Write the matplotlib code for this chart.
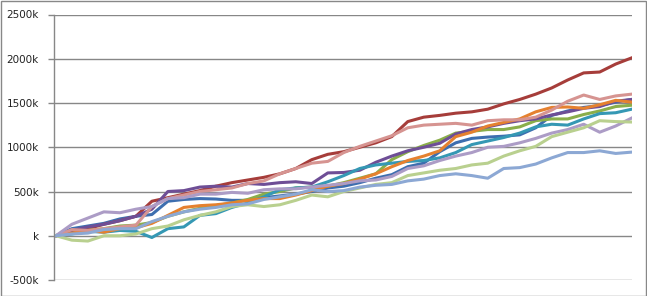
import matplotlib.pyplot as plt
from matplotlib.patches import Rectangle

# sampled values (thousands), one every ~16 px along the category axis
blue = [0, 80, 110, 140, 190, 220, 240, 390, 410, 420, 415, 400, 400, 430, 450, 470, 500, 540, 560,
        600, 650, 690, 780, 820, 950, 1050, 1100, 1115, 1125, 1140, 1220, 1360, 1410, 1450, 1470, 1510, 1540]
red = [0, 40, 80, 130, 170, 220, 390, 430, 470, 510, 560, 600, 630, 660, 700, 760, 860, 920, 950,
       1000, 1050, 1120, 1290, 1340, 1360, 1385, 1400, 1430, 1490, 1540, 1600, 1670, 1760, 1840, 1850, 1940, 2010]
green = [0, 30, 60, 80, 110, 120, 150, 220, 270, 310, 340, 370, 410, 470, 500, 540, 550, 560, 600,
         650, 700, 860, 950, 1020, 1080, 1160, 1180, 1200, 1200, 1230, 1300, 1320, 1320, 1370, 1410, 1460, 1475]
purple = [0, 60, 100, 130, 170, 220, 300, 500, 510, 550, 560, 550, 590, 580, 600, 610, 590, 710, 715,
          740, 830, 900, 960, 1000, 1045, 1150, 1200, 1230, 1270, 1300, 1320, 1365, 1400, 1440, 1460, 1520, 1540]
teal = [0, 20, 50, 40, 60, 50, -20, 80, 100, 230, 250, 320, 370, 440, 520, 540, 550, 610, 680,
        760, 800, 820, 840, 850, 880, 940, 1030, 1070, 1110, 1160, 1230, 1260, 1250, 1320, 1380, 1390, 1430]
orange = [0, 30, 60, 40, 80, 90, 140, 230, 320, 340, 350, 370, 400, 420, 420, 460, 510, 560, 590,
          640, 700, 780, 850, 900, 960, 1120, 1170, 1240, 1280, 1320, 1400, 1450, 1455, 1440, 1480, 1530, 1510]
pink = [0, 70, 60, 80, 100, 120, 330, 420, 460, 500, 520, 540, 590, 620, 700, 760, 820, 840, 940,
        1010, 1070, 1130, 1220, 1250, 1260, 1270, 1250, 1300, 1310, 1310, 1340, 1420, 1520, 1590, 1540, 1580, 1600]
lavender = [0, 130, 200, 270, 260, 300, 330, 420, 430, 470, 470, 490, 480, 520, 530, 530, 550, 570, 590,
            620, 630, 670, 760, 790, 850, 900, 940, 1000, 1010, 1050, 1100, 1160, 1200, 1260, 1170, 1240, 1330]
light_green = [0, -50, -60, 0, 0, 20, 80, 110, 180, 230, 270, 330, 350, 330, 350, 400, 460, 440, 500,
               540, 580, 600, 680, 710, 740, 760, 800, 820, 900, 960, 1010, 1120, 1170, 1220, 1300, 1290, 1285]
light_blue = [0, 20, 30, 70, 80, 80, 160, 220, 270, 300, 320, 350, 360, 410, 440, 470, 520, 500, 510,
              550, 570, 580, 620, 640, 680, 700, 680, 650, 760, 770, 810, 880, 940, 940, 960, 930, 945]

series = [blue, red, green, purple, teal, orange, pink, lavender, light_green, light_blue]
colors = ['#3D6EAF', '#A63D3A', '#8AAE4A', '#6E4E96', '#3598B4', '#E5812F',
          '#D69491', '#AC9CC6', '#B9D08F', '#8CA8D4']

tick_values = [-500, 0, 500, 1000, 1500, 2000, 2500]
tick_labels = ['-500k', 'k', '500k', '1000k', '1500k', '2000k', '2500k']

fig = plt.figure(figsize=(6.47, 2.96), dpi=100)
ax = fig.add_axes([54 / 647, 16 / 296, 578 / 647, 265.5 / 296])

for values, color in zip(series, colors):
    ax.plot(range(len(values)), values, color=color, linewidth=2.2, solid_joinstyle='round')

ax.set_xlim(-0.12, 36.02)
ax.set_ylim(-500, 2500)
ax.set_yticks(tick_values)
ax.set_yticklabels(tick_labels, fontsize=7.5, color='#222222')
ax.set_xticks([])
ax.yaxis.grid(True, color='#878787', linewidth=1)
ax.set_axisbelow(True)
ax.tick_params(axis='y', length=4, width=1, color='#878787', pad=7)

for side in ['top', 'right', 'bottom']:
    ax.spines[side].set_visible(False)
ax.spines['left'].set_color('#878787')
ax.spines['left'].set_linewidth(1)

fig.patches.append(Rectangle((0.5 / 647, 0.5 / 296), 645.5 / 647, 294.5 / 296, transform=fig.transFigure,
                             fill=False, edgecolor='#888888', linewidth=1))

fig.savefig('out.png', dpi=100)
